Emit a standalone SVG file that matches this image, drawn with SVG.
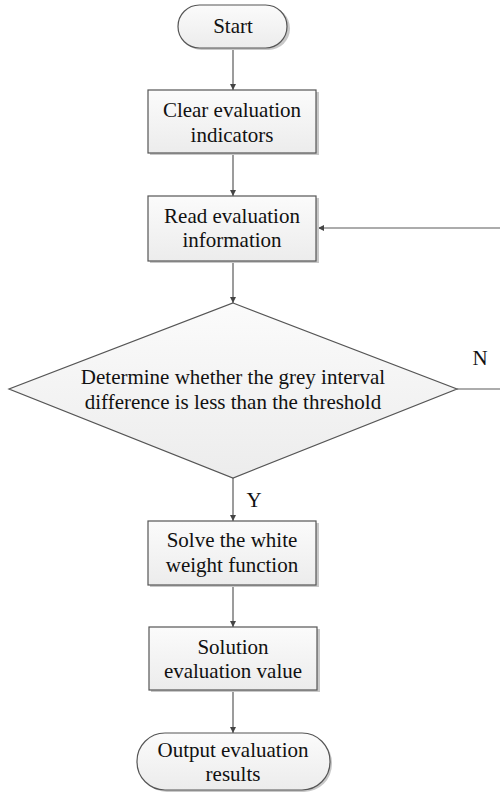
<svg xmlns="http://www.w3.org/2000/svg" width="500" height="792" viewBox="0 0 500 792">
<style>
.n{fill:url(#g);stroke:#555;stroke-width:1.2}
.sh{fill:#c8c8c8}
text{font-family:'Liberation Serif','Times New Roman','DejaVu Serif',serif;font-size:21px;fill:#111;text-anchor:middle}
.c{stroke:#5a5a5a;stroke-width:1.2;fill:none}
</style>
<defs>
<linearGradient id="g" x1="0" y1="0" x2="0" y2="1"><stop offset="0" stop-color="#fbfbfb"/><stop offset="1" stop-color="#ececec"/></linearGradient>
<marker id="a" viewBox="0 0 10 10" refX="10" refY="5" markerWidth="6" markerHeight="7" markerUnits="userSpaceOnUse" orient="auto"><path d="M0,0L10,5L0,10z" fill="#444"/></marker>
</defs>
<rect width="500" height="792" fill="#fff"/>
<g id="connectors">
<line class="c" x1="233" y1="49" x2="233" y2="90" marker-end="url(#a)"/>
<line class="c" x1="233" y1="154" x2="233" y2="196" marker-end="url(#a)"/>
<line class="c" x1="233" y1="261" x2="233" y2="303" marker-end="url(#a)"/>
<line class="c" x1="233" y1="478" x2="233" y2="521" marker-end="url(#a)"/>
<line class="c" x1="233" y1="586" x2="233" y2="627" marker-end="url(#a)"/>
<line class="c" x1="233" y1="691" x2="233" y2="733" marker-end="url(#a)"/>
<polyline class="c" points="457,389 500,389"/>
<line class="c" x1="500" y1="228" x2="318" y2="228" marker-end="url(#a)"/>
<text font-family="Liberation Serif, serif" x="480" y="365">N</text>
<text font-family="Liberation Serif, serif" x="254" y="507">Y</text>
</g>
<g id="start">
<rect class="sh" x="180" y="7" width="110" height="43" rx="21.5"/>
<rect class="n" x="178" y="5" width="109" height="43" rx="21.5"/>
<text x="233" y="33">Start</text>
</g>
<g id="clear">
<rect class="sh" x="150" y="92" width="169" height="63"/>
<rect class="n" x="148" y="90" width="168" height="63"/>
<text x="232" y="117">Clear evaluation</text>
<text x="232" y="142">indicators</text>
</g>
<g id="read">
<rect class="sh" x="150" y="198" width="169" height="65"/>
<rect class="n" x="148" y="196" width="168" height="65"/>
<text x="232" y="223">Read evaluation</text>
<text x="232" y="247">information</text>
</g>
<g id="decision">
<polygon class="n" points="233,303 457,389 233,478 9,389"/>
<text x="233" y="384">Determine whether the grey interval</text>
<text x="233" y="409">difference is less than the threshold</text>
</g>
<g id="solve">
<rect class="sh" x="150" y="523" width="169" height="64"/>
<rect class="n" x="148" y="521" width="168" height="64"/>
<text x="232" y="547">Solve the white</text>
<text x="232" y="572">weight function</text>
</g>
<g id="solution">
<rect class="sh" x="151" y="629" width="169" height="63"/>
<rect class="n" x="149" y="627" width="168" height="63"/>
<text x="233" y="654">Solution</text>
<text x="233" y="678">evaluation value</text>
</g>
<g id="output">
<rect class="sh" x="139" y="735" width="193" height="57" rx="28"/>
<rect class="n" x="137" y="733" width="193" height="57" rx="28"/>
<text x="233" y="757">Output evaluation</text>
<text x="233" y="781">results</text>
</g>
</svg>
